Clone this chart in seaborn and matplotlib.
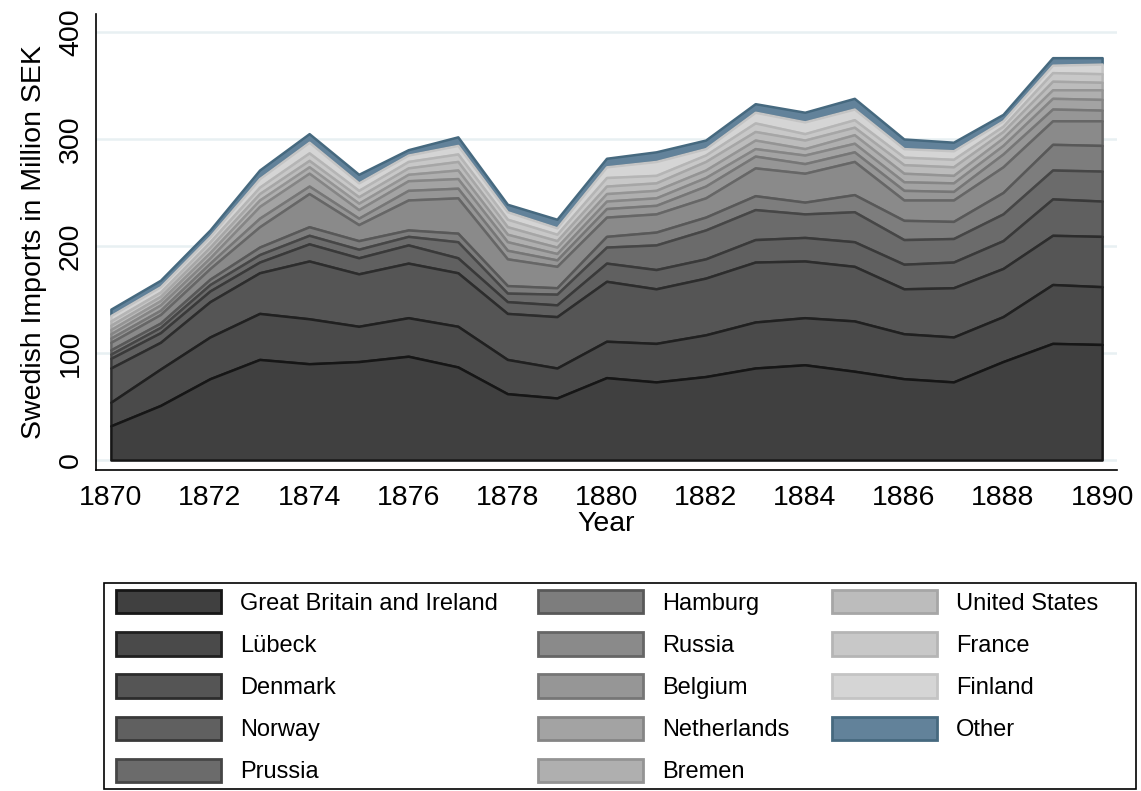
import numpy as np
import matplotlib
matplotlib.use("Agg")
import matplotlib.pyplot as plt
import seaborn as sns
from matplotlib.patches import Patch, Rectangle

years = list(range(1870, 1891))

great_britain = [32, 51, 76, 94, 90, 92, 97, 87, 62, 58, 77, 73, 78, 86, 89, 83, 76, 73, 92, 109, 108]
lubeck        = [22, 34, 39, 43, 42, 33, 36, 38, 32, 28, 34, 36, 39, 43, 44, 47, 42, 42, 42, 55, 54]
denmark       = [32, 25, 33, 38, 54, 49, 51, 50, 43, 48, 56, 51, 53, 56, 53, 51, 42, 46, 45, 46, 47]
norway        = [9, 9, 10, 10, 16, 15, 17, 14, 11, 11, 17, 18, 18, 21, 22, 23, 23, 24, 26, 34, 33]
prussia       = [4, 5, 6, 7, 8, 8, 8, 15, 8, 10, 15, 23, 27, 28, 22, 28, 23, 22, 25, 27, 28]
hamburg       = [4, 4, 5, 7, 8, 8, 6, 8, 7, 6, 10, 12, 12, 13, 11, 16, 18, 16, 20, 24, 24]
russia        = [7, 8, 10, 19, 31, 15, 28, 33, 25, 20, 18, 17, 18, 26, 27, 31, 19, 20, 24, 22, 23]
belgium       = [4, 4, 5, 8, 7, 6, 9, 9, 8, 6, 8, 8, 11, 11, 9, 9, 9, 8, 12, 11, 10]
netherlands   = [4, 5, 5, 11, 12, 8, 9, 9, 8, 6, 7, 7, 8, 7, 8, 8, 8, 8, 8, 10, 10]
bremen        = [4, 4, 5, 6, 6, 6, 6, 8, 7, 6, 7, 7, 7, 8, 6, 8, 8, 7, 7, 8, 9]
united_states = [4, 4, 5, 6, 6, 6, 6, 8, 7, 6, 7, 7, 8, 8, 8, 7, 8, 8, 6, 8, 7]
france        = [4, 4, 5, 6, 7, 6, 6, 7, 7, 6, 8, 7, 6, 8, 6, 7, 7, 7, 5, 8, 8]
finland       = [5, 5, 5, 8, 10, 7, 6, 8, 7, 6, 10, 13, 6, 10, 11, 10, 8, 8, 5, 7, 9]
other         = [6, 6, 6, 8, 8, 8, 5, 8, 7, 8, 8, 9, 8, 8, 9, 10, 9, 8, 6, 7, 6]

labels = ["Great Britain and Ireland", "Lübeck", "Denmark", "Norway", "Prussia",
          "Hamburg", "Russia", "Belgium", "Netherlands", "Bremen",
          "United States", "France", "Finland", "Other"]
series = [great_britain, lubeck, denmark, norway, prussia, hamburg, russia,
          belgium, netherlands, bremen, united_states, france, finland, other]

fills = ['#404040', '#4a4a4a', '#555555', '#606060', '#6b6b6b', '#7d7d7d', '#8a8a8a',
         '#969696', '#a3a3a3', '#afafaf', '#bcbcbc', '#c8c8c8', '#d5d5d5', '#62829a']
edges = ['#161616', '#202020', '#2c2c2c', '#393939', '#464646', '#585858', '#666666',
         '#767676', '#858585', '#949494', '#a6a6a6', '#b5b5b5', '#c4c4c4', '#46697f']

sns.set_theme(style="white")
plt.rcParams['font.family'] = ['Liberation Sans', 'DejaVu Sans']

fig = plt.figure(figsize=(11.41, 7.91), dpi=100)
ax = fig.add_axes([0.08414, 0.40582, 0.89483, 0.57648])

x = np.array(years)
tops = np.cumsum(np.array(series, dtype=float), axis=0)
bottoms = np.vstack([np.zeros(len(years)), tops[:-1]])

n = len(series)
for i in range(n - 1, -1, -1):
    ax.fill_between(x, bottoms[i], tops[i], facecolor=fills[i], edgecolor=edges[i],
                    linewidth=1.8, zorder=2 + (n - i) * 0.01)

ax.set_xlim(1869.70, 1890.30)
ax.set_ylim(-9.3, 416.8)
ax.set_xticks(range(1870, 1891, 2))
ax.set_yticks([0, 100, 200, 300, 400])
ax.yaxis.grid(True, color='#e8f0f2', linewidth=1.8, zorder=0)
ax.xaxis.grid(False)
ax.set_axisbelow(True)

sns.despine(ax=ax, top=True, right=True)
for s in ['left', 'bottom']:
    ax.spines[s].set_color('black')
    ax.spines[s].set_linewidth(1.2)

ax.tick_params(axis='both', which='major', direction='out', length=8, width=1.2,
               color='black', labelsize=20.5, labelcolor='black')
ax.tick_params(axis='x', pad=3)
for lab in ax.get_yticklabels():
    lab.set_rotation(90)
    lab.set_va('center')
    lab.set_ha('center')
ax.tick_params(axis='y', pad=10)

ax.set_xlabel("Year", fontsize=20.5, color='black', labelpad=0)
ax.set_ylabel("Swedish Imports in Million SEK", fontsize=20.5, color='black', labelpad=8)

# legend frame
fig.patches.append(Rectangle((104 / 1141, 1 - 789 / 791), (1136 - 104) / 1141, (789 - 583) / 791,
                             transform=fig.transFigure, facecolor='white', edgecolor='black',
                             linewidth=1.2, zorder=0))

handles = [Patch(facecolor=fills[i], edgecolor=edges[i], linewidth=2.0) for i in range(n)]
cols = [(0, 5, 116), (5, 10, 538), (10, 14, 832)]
for start, stop, xpix in cols:
    leg = fig.legend(handles[start:stop], labels[start:stop], loc='upper left',
                     bbox_to_anchor=(xpix / 1141, 1 - 590 / 791), bbox_transform=fig.transFigure,
                     frameon=False, fontsize=17, handlelength=4.45, handleheight=1.15,
                     handletextpad=0.8, labelspacing=0.74, borderpad=0, borderaxespad=0)
    for t in leg.get_texts():
        t.set_color('black')

fig.savefig("out.png", dpi=100, facecolor='white')
